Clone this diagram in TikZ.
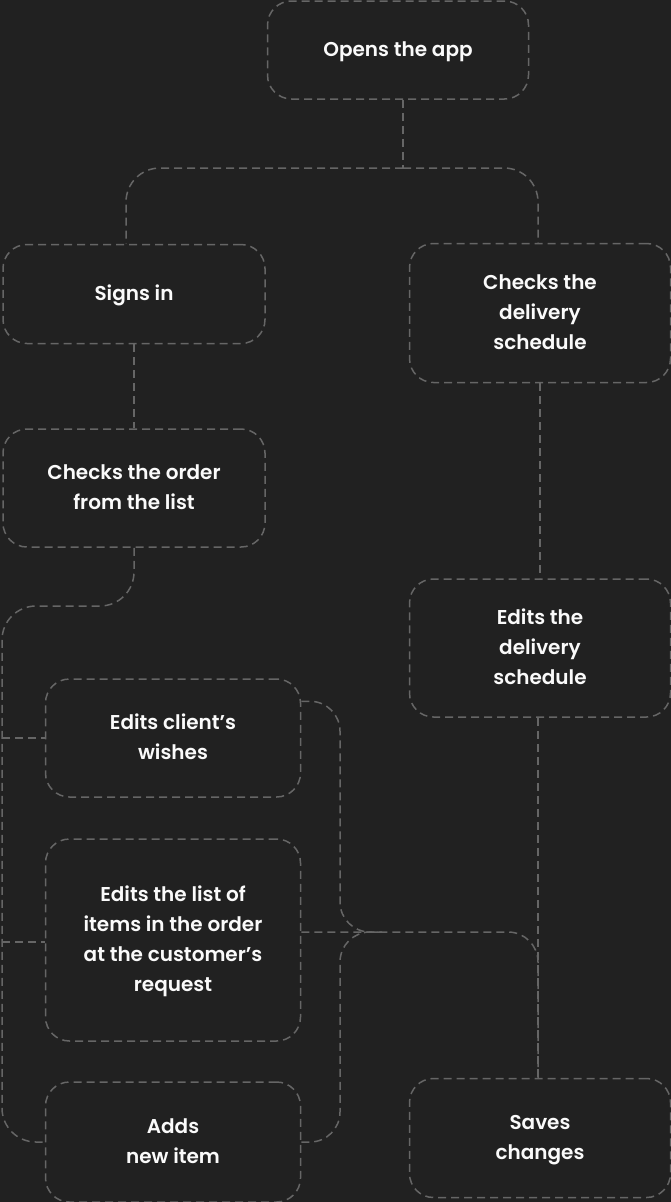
\documentclass[tikz,border=0pt]{standalone}
\usepackage{fontspec}
\setmainfont{Poppins SemiBold}
\usepackage{xcolor}
\usetikzlibrary{calc,positioning}
\definecolor{canvas}{RGB}{33, 33, 33}
\definecolor{stroke}{RGB}{102, 102, 102}
\definecolor{label}{RGB}{250, 250, 250}
\newcommand{\steptext}[1]{\raisebox{-3pt}{\begin{tabular}{@{}c@{}}#1\end{tabular}}}
\tikzset{
    stepbox/.style={draw=stroke, line width=1.5pt, dash pattern=on 8pt off 5pt,
        rounded corners=24pt, text=label, inner sep=0pt,
        font=\fontsize{20pt}{30pt}\selectfont},
    link/.style={draw=stroke, line width=1.5pt, dash pattern=on 8pt off 5pt}
}

\begin{document}
\begin{tikzpicture}[x=1pt, y=-1pt]
    \fill[canvas] (0,0) rectangle (671,1202);
    \useasboundingbox (0,0) rectangle (671,1202);

    \node[stepbox, minimum width=261pt, minimum height=98pt] (app) at (398,50) {\steptext{Opens the app}};
    \node[stepbox, minimum width=262pt, minimum height=99pt] (signin) at (134,294) {\steptext{Signs in}};
    \node[stepbox, minimum width=261pt, minimum height=139pt] (schedule) at (540,313) {\steptext{Checks the\\delivery\\schedule}};
    \node[stepbox, minimum width=262pt, minimum height=118pt] (order) at (134,488) {\steptext{Checks the order\\from the list}};
    \node[stepbox, minimum width=261pt, minimum height=138pt] (editsched) at (540,648) {\steptext{Edits the\\delivery\\schedule}};
    \node[stepbox, minimum width=255pt, minimum height=118pt] (wishes) at (173,738) {\steptext{Edits client’s\\wishes}};
    \node[stepbox, minimum width=255pt, minimum height=202pt] (items) at (173,940) {\steptext{Edits the list of\\items in the order\\at the customer’s\\request}};
    \node[stepbox, minimum width=255pt, minimum height=120pt] (newitem) at (173,1142) {\steptext{Adds\\new item}};
    \node[stepbox, minimum width=261pt, minimum height=119pt] (saves) at (540,1138) {\steptext{Saves\\changes}};

    \coordinate (split) at (403,168);
    \coordinate (lbus) at (2,606);
    \coordinate (join) at (382,932);
    \coordinate (rbus) at (340,932);

    \draw[link] (split |- app.south) -- (split);
    \draw[link, rounded corners=34pt] (split) -| ([xshift=-8pt]signin.north);
    \draw[link, rounded corners=34pt] (split) -| ([xshift=-2pt]schedule.north);
    \draw[link] (signin) -- (order);
    \draw[link] (schedule) -- (editsched);
    \draw[link] ([xshift=-2pt]editsched.south) -- ([xshift=-2pt]saves.north);

    \draw[link, rounded corners=34pt] (order.south) |- (lbus) |- (newitem.west);
    \draw[link] (wishes.west -| lbus) -- (wishes.west);
    \draw[link] ([yshift=-2pt]items.west -| lbus) -- ([yshift=-2pt]items.west);

    \draw[link, rounded corners=30pt] (items.east |- join) -| ([xshift=-2pt]saves.north);
    \draw[link, rounded corners=30pt] ([yshift=-23pt]wishes.north east) -| (rbus) -- (join);
    \draw[link, rounded corners=30pt] (newitem.east) -| (rbus) -- (join);
\end{tikzpicture}
\end{document}
